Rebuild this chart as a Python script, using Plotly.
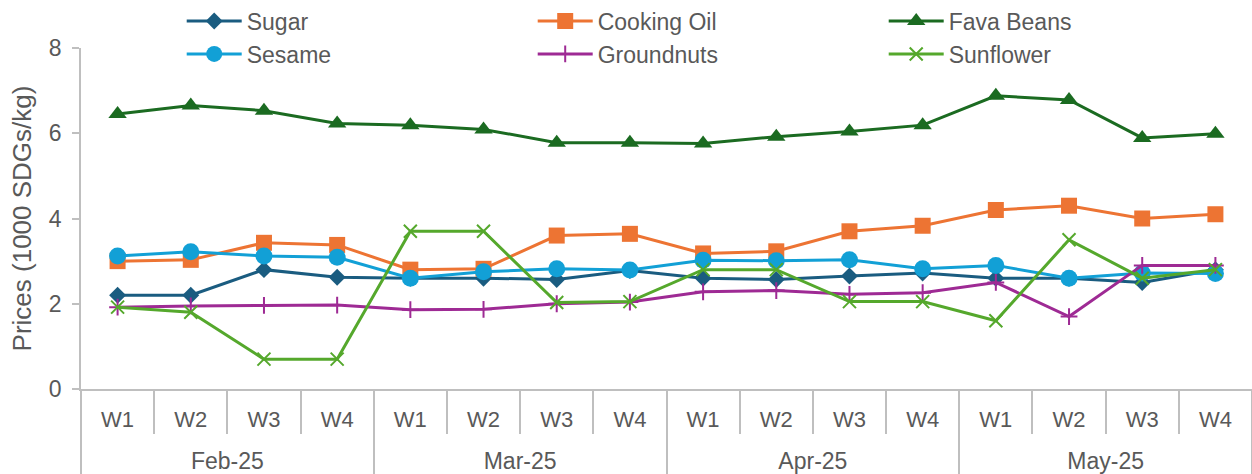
import plotly.graph_objects as go

# Weekly prices, thousand SDGs per kg
months = ["Feb-25", "Mar-25", "Apr-25", "May-25"]
weeks = ["W1", "W2", "W3", "W4"]

sugar = [2.2, 2.2, 2.8, 2.62, 2.6, 2.6, 2.57, 2.78, 2.6, 2.57, 2.65, 2.72, 2.6, 2.6, 2.5, 2.8]
cooking_oil = [3.0, 3.03, 3.43, 3.38, 2.8, 2.82, 3.6, 3.64, 3.18, 3.23, 3.7, 3.83, 4.2, 4.3, 4.0, 4.1]
fava_beans = [6.45, 6.65, 6.53, 6.23, 6.19, 6.09, 5.78, 5.78, 5.76, 5.92, 6.04, 6.19, 6.88, 6.78, 5.89, 5.99]
sesame = [3.12, 3.22, 3.12, 3.09, 2.6, 2.75, 2.82, 2.79, 3.02, 3.01, 3.03, 2.82, 2.9, 2.6, 2.72, 2.71]
groundnuts = [1.92, 1.95, 1.96, 1.97, 1.86, 1.87, 2.0, 2.04, 2.28, 2.31, 2.22, 2.26, 2.5, 1.7, 2.9, 2.9]
sunflower = [1.92, 1.8, 0.7, 0.7, 3.7, 3.7, 2.03, 2.05, 2.8, 2.8, 2.05, 2.05, 1.6, 3.5, 2.6, 2.8]

# one slot per (month, week) pair
month_level = [m for m in months for _ in weeks]
week_level = [w for _ in months for w in weeks]
pos = list(range(len(week_level)))
n_weeks = len(weeks)
month_centers = [
    sum(p for p, m in zip(pos, month_level) if m == mo) / n_weeks for mo in months
]

# the last series sits on the month axis (same range, drawn on top)
series = [
    ("Sugar", sugar, "#1A5C80", "diamond", 13, "x"),
    ("Cooking Oil", cooking_oil, "#ED7433", "square", 16, "x"),
    ("Fava Beans", fava_beans, "#1B6B21", "triangle-up", 16, "x"),
    ("Sesame", sesame, "#12A0D6", "circle", 17, "x"),
    ("Groundnuts", groundnuts, "#9E2A94", "cross-thin", 12, "x"),
    ("Sunflower", sunflower, "#55A82C", "x-thin", 13, "x2"),
]

fig = go.Figure()
for name, vals, color, symbol, size, xa in series:
    marker = dict(symbol=symbol, size=size, color=color)
    if symbol.endswith("-thin"):
        marker["line"] = dict(color=color, width=2)
    fig.add_trace(go.Scatter(
        x=pos, y=vals, name=name, mode="lines+markers", xaxis=xa,
        line=dict(color=color, width=3),
        marker=marker,
        customdata=[f"{w} {m}" for m, w in zip(month_level, week_level)],
        hovertemplate="%{customdata}: %{y}<extra>" + name + "</extra>",
    ))

axis_grey = "#BFBFBF"
text_grey = "#595959"
x_range = [pos[0] - 0.5, pos[-1] + 0.5]

fig.update_layout(
    width=1252, height=474,
    margin=dict(l=81, r=0, t=48, b=85, autoexpand=False),
    plot_bgcolor="white", paper_bgcolor="white",
    font=dict(family="Liberation Sans, Arial, sans-serif", size=23, color=text_grey),
    showlegend=True,
    legend=dict(
        orientation="h", x=0.086, y=1.142, xanchor="left", yanchor="top",
        entrywidth=281, entrywidthmode="pixels", itemwidth=55,
        font=dict(size=23, color=text_grey),
        bgcolor="rgba(0,0,0,0)", tracegroupgap=0,
    ),
    yaxis=dict(
        range=[0, 8], dtick=2, showgrid=False, zeroline=False,
        showline=True, linecolor=axis_grey, linewidth=1.5,
        ticks="outside", ticklen=7, tickcolor=axis_grey, tickwidth=1.5,
        ticklabelstandoff=6,
        tickfont=dict(size=23, color=text_grey),
        title=dict(text="Prices (1000 SDGs/kg)", font=dict(size=26, color=text_grey), standoff=10),
    ),
    # week labels, with short separators between weeks
    xaxis=dict(
        range=x_range, showgrid=False, zeroline=False,
        showline=True, linecolor=axis_grey, linewidth=1.5,
        tickmode="array", tickvals=pos, ticktext=week_level, ticks="",
        ticklabelstandoff=10,
        tickfont=dict(size=22, color=text_grey),
        minor=dict(tick0=pos[0] - 0.5, dtick=1, ticks="outside", ticklen=43,
                   tickcolor=axis_grey, tickwidth=1.5, showgrid=False),
    ),
    # month labels, with long dividers between months
    xaxis2=dict(
        overlaying="x", anchor="y", side="bottom",
        range=x_range, showgrid=False, zeroline=False, showline=False,
        tickmode="array", tickvals=month_centers, ticktext=months, ticks="",
        ticklabelstandoff=56,
        tickfont=dict(size=23, color=text_grey),
        minor=dict(tick0=pos[0] - 0.5, dtick=n_weeks, ticks="outside", ticklen=86,
                   tickcolor=axis_grey, tickwidth=1.5, showgrid=False),
    ),
)

fig.write_html("out.html")
